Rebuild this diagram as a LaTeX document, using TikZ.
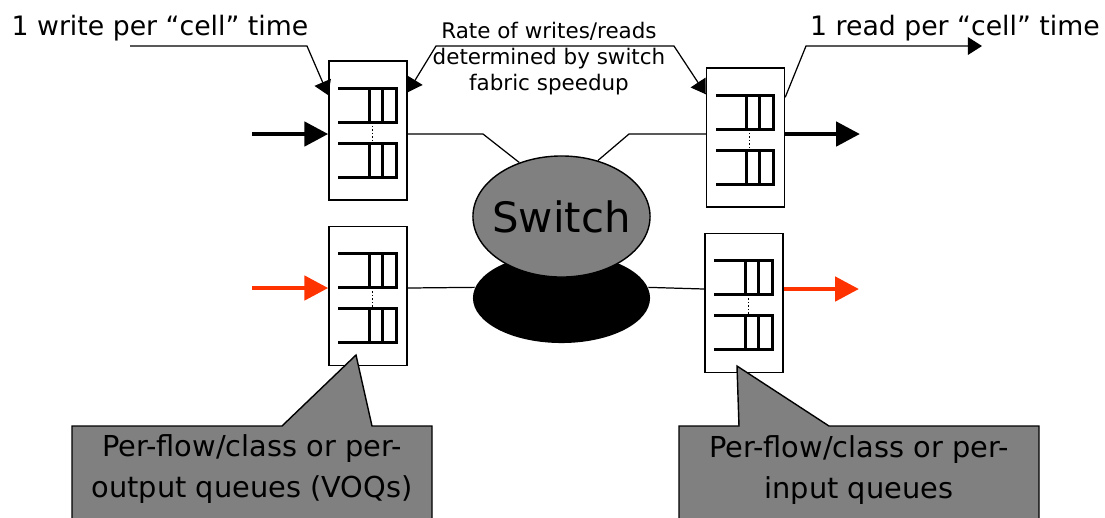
\documentclass[tikz,border=0pt]{standalone}
\usepackage{fontspec}
\setmainfont{DejaVu Sans}
\usetikzlibrary{arrows.meta,calc,shapes.geometric,positioning}
\definecolor{flowred}{HTML}{FF3300}
\definecolor{notegray}{HTML}{808080}

\tikzset{
  qline/.style={line width=0.8pt},
  qpair/.pic={
    \draw[qline] (0,0) -- (58,0) -- (58,34) -- (0,34) (31,0) -- (31,34) (44,0) -- (44,34);
    \draw[qline] (0,55) -- (58,55) -- (58,89) -- (0,89) (31,55) -- (31,89) (44,55) -- (44,89);
    \draw[line width=0.3pt, dash pattern=on 0.4pt off 0.6pt] (34,34) -- (34,55);
  },
  qbox/.style={draw, fill=white, line width=0.4pt, minimum width=0.78cm, minimum height=1.39cm, inner sep=0pt},
  smalltip/.tip={Triangle[length=4pt,width=5pt]},
  bigarrow/.style={line width=1.4pt, -{Triangle[length=6.8pt,width=6.8pt]}},
  callout/.style={line width=0.35pt},
  link/.style={line width=0.35pt},
  note/.style={fill=notegray, draw, line width=0.4pt},
  lbl/.style={inner sep=0pt, font=\fontsize{7.6}{9}\selectfont},
  notetext/.style={inner sep=0pt, align=center, font=\fontsize{8.2}{11.4}\selectfont}
}

\begin{document}
\begin{tikzpicture}[x=0.01cm, y=-0.01cm]
\clip (0,0) rectangle (1105,517);

% Queue boxes
\node[qbox] (inTop) at (368,130.5) {};
\node[qbox] (inBot) at (368,296) {};
\node[qbox] (outTop) at (745.5,137.5) {};
\node[qbox] (outBot) at (744,303) {};
\foreach \b in {inTop,inBot,outTop,outBot}
  \pic at ($(\b.north west)+(10,28)$) {qpair};

% Switch fabric
\node[ellipse, fill=black, minimum width=1.77cm, minimum height=0.9cm, inner sep=0pt] (base) at (561.5,298) {};
\node[ellipse, draw, fill=notegray, line width=0.4pt, minimum width=1.77cm, minimum height=1.21cm, inner sep=0pt] (sw) at (561.5,216.5) {};
\node[inner sep=0pt, font=\fontsize{11.9}{14}\selectfont] (swtext) at (sw) {Switch};

% Links to the fabric
\coordinate (k1) at (483,134);
\coordinate (k2) at (629,134);
\draw[link] (inTop.east |- k1) -- (k1) -- (sw.128);
\draw[link] (outTop.west |- k2) -- (k2) -- (sw.57);
\coordinate (f1) at (0,288);
\coordinate (f2) at (0,289);
\draw[link] (inBot.east |- f1) -- (base.173);
\draw[link] (base.7) -- (outBot.west |- f2);

% Flows in and out
\coordinate (inA) at (252,134);
\coordinate (outA) at (860,134);
\coordinate (inB) at (252,288);
\coordinate (outB) at (859,289);
\draw[bigarrow] (inA) -- (inTop.west |- inA);
\draw[bigarrow] (outTop.east |- outA) -- (outA);
\draw[bigarrow, flowred] (inB) -- (inBot.west |- inB);
\draw[bigarrow, flowred] (outBot.east |- outB) -- (outB);

% Labels
\node[lbl] (wlabel) at (160,28) {1 write per “cell” time};
\node[lbl] (rdlabel) at (955,28) {1 read per “cell” time};
\node[inner sep=0pt, align=center, font=\fontsize{6.1}{7.4}\selectfont] (ratelabel) at (549,59)
  {Rate of writes/reads\\determined by switch\\fabric speedup};

\coordinate (w0) at (130,46);
\coordinate (w1) at (307,46);
\draw[callout, -smalltip] (w0) -- (w1) -- ($(inTop.north west)+(0,35)$);
\coordinate (r0) at (436,46);
\coordinate (r1) at (674,46);
\draw[callout, smalltip-smalltip] ($(inTop.north east)+(0,32)$) -- (r0) -- (r1) -- ($(outTop.north west)+(0,27)$);
\coordinate (d0) at (806,46);
\coordinate (d1) at (982,46);
\draw[callout, -smalltip] ($(outTop.north east)+(0,30)$) -- (d0) -- (d1);

% Notes
\filldraw[note] (72,426) -- (282,426) -- (356,355) -- (372,426) -- (432,426) -- (432,525) -- (72,525) -- cycle;
\filldraw[note] (679,426) -- (739,426) -- (737,366) -- (829,426) -- (1039,426) -- (1039,525) -- (679,525) -- cycle;
\node[notetext] (voqnote) at (252,469) {Per-flow/class or per-\\output queues (VOQs)};
\node[notetext] (inqnote) at (859,470) {Per-flow/class or per-\\input queues};

\end{tikzpicture}
\end{document}
